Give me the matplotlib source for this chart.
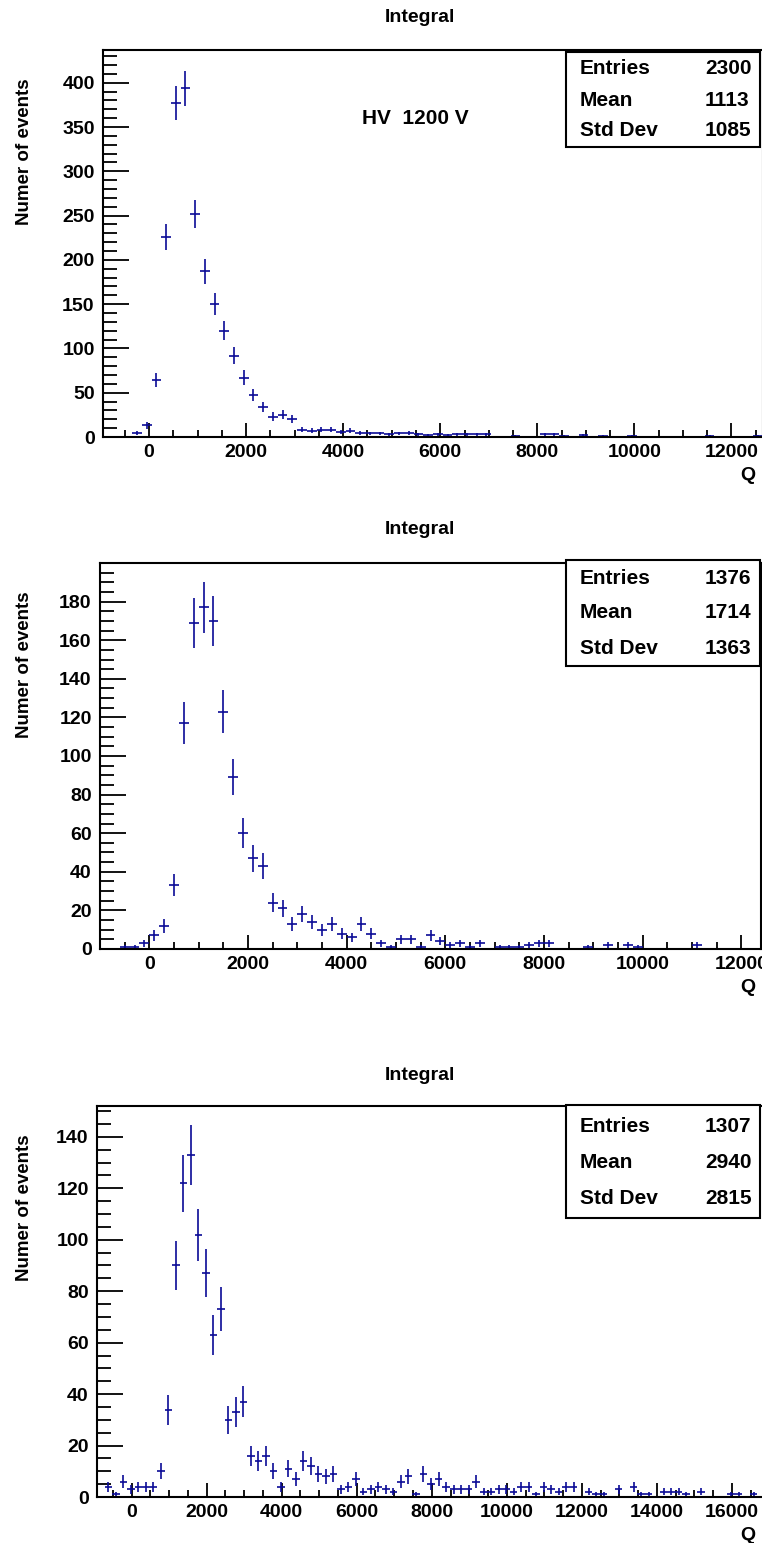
import numpy as np
import matplotlib
matplotlib.use('Agg')
from matplotlib import pyplot as plt
from matplotlib.patches import Rectangle
from matplotlib.ticker import MultipleLocator, FixedLocator

plt.rcParams['font.family'] = ['Liberation Sans', 'DejaVu Sans']
plt.rcParams['font.weight'] = 'bold'

# histogram 1 (HV 1200 V): bins of 200 starting at -950
h1_lo = -950
h1_width = 200
h1_counts = [0, 0, 0, 5, 13, 64, 226, 377, 394, 252,
             187, 150, 120, 92, 67, 47, 34, 23, 25, 20,
             8, 7, 8, 8, 6, 7, 5, 4, 4, 3,
             4, 5, 3, 2, 3, 2, 3, 3, 3, 3,
             0, 0, 1, 0, 0, 3, 3, 1, 0, 2,
             0, 1, 0, 0, 1, 0, 0, 0, 0, 0,
             0, 0, 1, 0, 0, 0, 0, 1]
h1_stats = ['2300', '1113', '1085']

# histogram 2: bins of 200 starting at -1000
h2_lo = -1000
h2_width = 200
h2_counts = [0, 0, 1, 1, 3, 7, 12, 33, 117, 169,
             177, 170, 123, 89, 60, 47, 43, 24, 21, 13,
             18, 14, 10, 13, 8, 6, 13, 8, 3, 1,
             5, 5, 1, 7, 4, 2, 3, 1, 3, 0,
             1, 1, 1, 2, 3, 3, 0, 0, 0, 1,
             0, 2, 0, 2, 1, 0, 0, 0, 0, 0,
             2, 0, 0, 0, 0, 0, 0]
h2_stats = ['1376', '1714', '1363']

# histogram 3: bins of 200 starting at -920
h3_lo = -920
h3_width = 200
h3_counts = [0, 4, 1, 6, 3, 4, 4, 4, 10, 34,
             90, 122, 133, 102, 87, 63, 73, 30, 33, 37,
             16, 14, 16, 10, 4, 11, 7, 14, 12, 9,
             8, 9, 3, 4, 7, 2, 3, 4, 3, 2,
             6, 8, 1, 9, 5, 7, 4, 3, 3, 3,
             6, 2, 2, 3, 3, 2, 4, 4, 1, 4,
             3, 2, 4, 4, 0, 2, 1, 1, 0, 3,
             0, 4, 1, 1, 0, 2, 2, 2, 1, 0,
             2, 0, 0, 0, 1, 1, 0, 1, 0]
h3_stats = ['1307', '2940', '2815']

stat_names = ['Entries', 'Mean', 'Std Dev']

W, H = 762, 1543
fig = plt.figure(figsize=(W / 100, H / 100), dpi=100)
blue = '#0a0a96'


def panel(box, lo, width, counts, ymax, ymaj, ymin, ytop_lab, title_y, stats, stat_box, rows, q_y):
    l, t, r, b = box
    ax = fig.add_axes([l / W, 1 - b / H, (r - l) / W, (b - t) / H])
    c = np.array(counts, dtype=float)
    x = lo + width * (np.arange(len(c)) + 0.5)
    m = c > 0
    ax.errorbar(x[m], c[m], xerr=width / 2, yerr=np.sqrt(c[m]), fmt='none',
                ecolor=blue, elinewidth=1.2, capsize=0)
    ax.set_xlim(lo, lo + width * len(c))
    ax.set_ylim(0, ymax)
    ax.xaxis.set_major_locator(MultipleLocator(2000))
    ax.xaxis.set_minor_locator(MultipleLocator(500))
    ax.yaxis.set_major_locator(FixedLocator(np.arange(0, ytop_lab + 1, ymaj)))
    ax.yaxis.set_minor_locator(MultipleLocator(ymin))
    ax.tick_params(axis='both', which='both', direction='in', top=False, right=False,
                   labelsize=14, width=1.3)
    ax.tick_params(axis='x', which='major', length=10, pad=5)
    ax.tick_params(axis='x', which='minor', length=5)
    ax.tick_params(axis='y', which='major', length=19, pad=6)
    ax.tick_params(axis='y', which='minor', length=10)
    for s in ax.spines.values():
        s.set_linewidth(1.5)
    for lab in ax.get_xticklabels() + ax.get_yticklabels():
        lab.set_fontweight('bold')

    fig.text(420 / W, 1 - title_y / H, 'Integral', ha='center', va='center',
             fontsize=14, fontweight='bold')
    fig.text(25 / W, 1 - (t + 28) / H, 'Numer of events', rotation=90,
             ha='center', va='top', fontsize=13.5, fontweight='bold')
    fig.text(748 / W, 1 - q_y / H, 'Q', ha='center', va='center',
             fontsize=14, fontweight='bold')

    bl, bt, br, bb = stat_box
    fig.patches.append(Rectangle((bl / W, 1 - bb / H), (br - bl) / W, (bb - bt) / H,
                                 transform=fig.transFigure, facecolor='white',
                                 edgecolor='black', linewidth=1.5, zorder=5))
    for name, val, ry in zip(stat_names, stats, rows):
        fig.text(580 / W, 1 - ry / H, name, ha='left', va='center', fontsize=15,
                 fontweight='bold', zorder=6)
        fig.text(705 / W, 1 - ry / H, val, ha='left', va='center', fontsize=15,
                 fontweight='bold', zorder=6)
    return ax


ax1 = panel((103, 50, 763, 437), h1_lo, h1_width, h1_counts, 437, 50, 10, 400, 18,
            h1_stats, (566, 52, 760, 147), (68, 100, 131), 476)
fig.text(362 / W, 1 - 118 / H, 'HV  1200 V', ha='left', va='center',
         fontsize=15, fontweight='bold')

ax2 = panel((100, 563, 761, 949), h2_lo, h2_width, h2_counts, 200, 20, 5, 180, 530,
            h2_stats, (566, 560, 760, 666), (578, 613, 648), 987)

ax3 = panel((97, 1106, 765, 1497), h3_lo, h3_width, h3_counts, 152, 20, 5, 140, 1075,
            h3_stats, (566, 1105, 760, 1218), (1127, 1163, 1199), 1536)

fig.savefig('out.png', dpi=100)
